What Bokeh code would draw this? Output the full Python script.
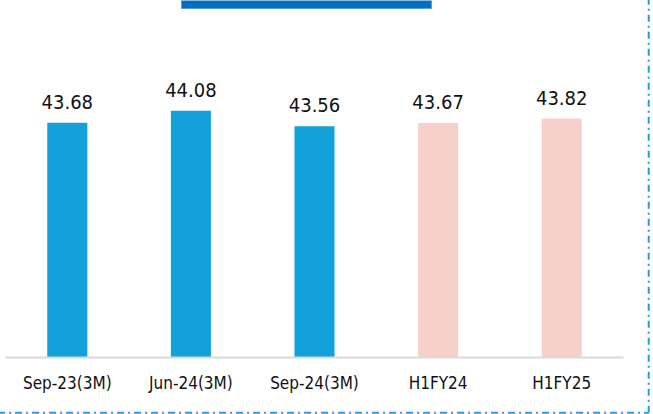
from bokeh.plotting import figure
from bokeh.models import Range1d, FixedTicker, ColumnDataSource, LabelSet
from bokeh.embed import file_html
from bokeh.resources import INLINE
from bokeh.core.properties import value

# ---- data ----
categories = ["Sep-23(3M)", "Jun-24(3M)", "Sep-24(3M)", "H1FY24", "H1FY25"]
values = [43.68, 44.08, 43.56, 43.67, 43.82]
value_labels = ["43.68", "44.08", "43.56", "43.67", "43.82"]
bar_colors = ["#13a1d9", "#13a1d9", "#13a1d9", "#f7d0ca", "#f7d0ca"]

# ---- layout constants ----
W, H = 653, 414
Y0, Y1 = 35.8, 47.78
FONT = "DejaVu Sans Condensed"

xs = list(range(len(categories)))
src = ColumnDataSource(dict(x=xs, top=values, lab=value_labels, color=bar_colors))

p = figure(width=W, height=H, output_backend="svg", toolbar_location=None,
           x_range=Range1d(-0.5, 4.5), y_range=Range1d(Y0, Y1),
           y_axis_location=None, min_border_left=5, min_border_right=30,
           min_border_top=0, min_border_bottom=57)
p.outline_line_color = None
p.grid.visible = False
p.background_fill_color = "white"
p.border_fill_color = "white"

p.vbar(x="x", top="top", bottom=Y0, width=0.324, color="color", line_color=None, source=src)

p.add_layout(LabelSet(x="x", y="top", text="lab", source=src, text_align="center",
                      text_baseline="alphabetic", y_offset=14,
                      text_font=value(FONT), text_font_size="20px", text_color="#111111"))

ax = p.xaxis[0]
ax.ticker = FixedTicker(ticks=xs)
ax.major_label_overrides = {i: c for i, c in enumerate(categories)}
ax.major_tick_line_color = None
ax.minor_tick_line_color = None
ax.major_tick_out = 0
ax.major_tick_in = 0
ax.axis_line_color = "#d9d9d9"
ax.axis_line_width = 2
ax.major_label_standoff = 15
ax.major_label_text_font = FONT
ax.major_label_text_font_size = "17px"
ax.major_label_text_color = "#111111"

# title box (cut off at top)
p.quad(left=[0.924], right=[2.947], top=[Y1], bottom=[Y1 - 8 / 29.8],
       fill_color="#0070c0", line_color="#5b9bd5", line_width=1)

# dash-dot frame lines
border = dict(line_color="#1f9fdb", line_width=2, line_dash="7 4 2 4", level="overlay")
p.segment(x0=[4.704], y0=[33.95], x1=[4.704], y1=[Y1 + 1], **border)
p.segment(x0=[-0.56], y0=[33.95], x1=[4.704], y1=[33.95], **border)

open("out.html", "w").write(file_html(p, INLINE))
